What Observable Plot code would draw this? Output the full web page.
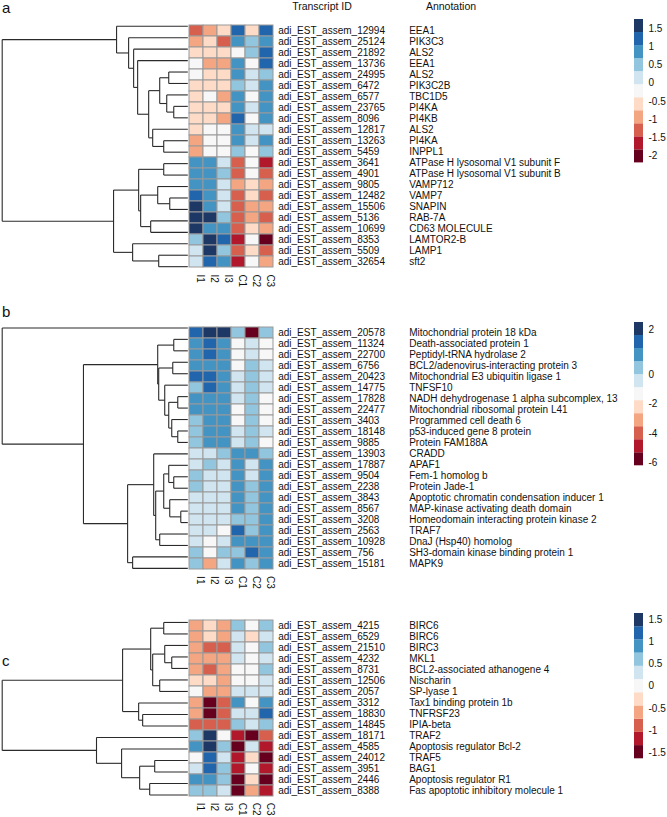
<!DOCTYPE html>
<html><head><meta charset="utf-8">
<script src="https://cdn.jsdelivr.net/npm/d3@7"></script>
<script src="https://cdn.jsdelivr.net/npm/@observablehq/plot@0.6"></script>
<style>
body{margin:0;background:#fff;}
#fig{position:relative;width:667px;height:817px;overflow:hidden;font-family:"Liberation Sans",Arial,Helvetica,sans-serif;color:#111;}
.lbl{position:absolute;line-height:1;white-space:nowrap;}
</style></head><body><div id="fig"></div>
<script>
// ---------- data ----------
const columns = ["I1","I2","I3","C1","C2","C3"];

const idsA = [12994,25124,21892,13736,24995,6472,6577,23765,8096,12817,13263,5459,3641,4901,9805,12482,15506,5136,10699,8353,5509,32654];
const annotA = ["EEA1","PIK3C3","ALS2","EEA1","ALS2","PIK3C2B","TBC1D5","PI4KA","PI4KB","ALS2","PI4KA","INPPL1",
  "ATPase H lysosomal V1 subunit F","ATPase H lysosomal V1 subunit B","VAMP712","VAMP7","SNAPIN","RAB-7A","CD63 MOLECULE","LAMTOR2-B","LAMP1","sft2"];
const valuesA = [
  [-1.30,-0.94,-0.58, 1.21,-0.58, 1.21],
  [-0.94,-0.58,-1.30, 0.85, 0.50, 0.85],
  [-0.58,-0.58,-0.58,-0.22, 0.50, 1.21],
  [-0.22,-0.94,-0.94, 0.85,-0.22, 1.21],
  [-0.22,-0.58,-0.58, 0.85, 0.14, 0.50],
  [-0.58,-0.58,-0.58, 0.50, 0.14, 0.85],
  [-0.58,-0.22,-0.94, 0.85,-0.22, 0.85],
  [-0.58,-0.58,-0.58, 0.85, 0.14, 0.85],
  [-0.58,-0.58,-0.94, 1.21,-0.22, 0.85],
  [-0.58,-0.22,-0.22, 0.85, 0.14, 0.14],
  [-0.94,-0.22,-0.22, 0.85, 0.14, 0.85],
  [-0.94,-0.22,-0.22, 0.50,-0.22, 0.50],
  [ 0.85, 0.85, 0.14,-1.30,-0.22,-1.65],
  [ 0.85, 0.85, 0.50,-1.30,-0.22,-1.30],
  [ 0.85, 0.85, 0.14,-0.94,-0.58,-0.94],
  [ 1.21, 0.85, 0.14,-1.30,-0.58,-1.30],
  [ 1.57, 0.85, 0.14,-1.30,-0.94,-0.94],
  [ 1.57, 1.57, 0.50,-1.30,-0.94,-1.30],
  [ 1.57, 0.85, 0.85,-1.30,-0.58,-0.94],
  [ 0.50, 1.57, 1.21,-1.65,-0.22,-2.01],
  [ 0.14, 1.57, 0.50,-1.30,-0.58,-1.30],
  [ 0.14, 1.21, 0.85,-1.65,-0.22,-0.94]
];
// dendrogram: [height, left, right]; a number is a leaf (row index)
const treeA = [185,
  [71, 0, [59, 1, [54, 2, [50, 3, [39, [28, [19, 4, 5], [21, 6, [14, 7, 8]]], [35, 9, [24, 10, 11]]]]]]],
  [74, [49, [24, 12, 13], [47, [30, 14, [18, 15, 16]], [37, 17, 18]]], [55, 19, [29, 20, 21]]]
];
const colorDomainA = [-2.19, 1.75];
const boxesA = [11];
const ticksA = [1.5, 1, 0.5, 0, -0.5, -1, -1.5, -2];

const idsB = [20578,11324,22700,6756,20423,14775,17828,22477,3403,18148,9885,13903,17887,9504,2238,3843,8567,3208,2563,10928,756,15181];
const annotB = ["Mitochondrial protein 18 kDa","Death-associated protein 1","Peptidyl-tRNA hydrolase 2","BCL2/adenovirus-interacting protein 3",
  "Mitochondrial E3 ubiquitin ligase 1","TNFSF10","NADH dehydrogenase 1 alpha subcomplex, 13","Mitochondrial ribosomal protein L41",
  "Programmed cell death 6","p53-induced gene 8 protein","Protein FAM188A","CRADD","APAF1","Fem-1 homolog b","Protein Jade-1",
  "Apoptotic chromatin condensation inducer 1","MAP-kinase activating death domain","Homeodomain interacting protein kinase 2",
  "TRAF7","DnaJ (Hsp40) homolog","SH3-domain kinase binding protein 1","MAPK9"];
const valuesB = [
  [ 1.45, 2.02, 2.02, 0.29,-5.75, 0.29],
  [ 0.87, 1.45, 0.87,-1.33,-0.44,-1.33],
  [ 0.90, 1.40, 0.85,-1.30,-0.40,-1.35],
  [ 0.87, 0.87, 0.87,-1.33, 0.29,-0.44],
  [ 1.45, 1.45, 0.87,-0.44, 0.29,-0.44],
  [ 0.29, 1.45, 0.87,-0.44, 0.29,-0.44],
  [ 0.87, 0.87, 0.87,-0.44, 0.29,-1.33],
  [ 0.87, 0.87, 0.87,-1.33, 0.29,-1.33],
  [ 0.29, 0.87, 0.87,-1.33, 0.29,-1.33],
  [ 0.29, 0.87, 0.87,-0.44, 0.29,-0.44],
  [ 0.29, 0.87, 0.87,-0.44, 0.29,-1.33],
  [-0.44,-0.44, 0.29, 0.87, 0.87, 0.29],
  [-0.44, 0.29,-0.44, 0.87,-0.44, 0.87],
  [ 0.29,-0.44,-0.44, 0.87,-0.44, 0.87],
  [ 0.29,-0.44,-0.44, 0.87, 0.29, 0.87],
  [-0.44,-0.44,-0.44, 0.87, 0.29, 0.87],
  [-0.40,-0.45,-0.42, 0.90, 0.30, 0.88],
  [-0.44,-0.44,-0.44, 0.29, 0.29, 0.87],
  [-0.44,-0.44,-1.33, 1.45, 0.29, 0.87],
  [-0.44,-1.33,-0.44, 0.87, 0.87, 0.87],
  [ 0.29,-1.33, 0.29, 0.29, 1.45, 0.87],
  [ 0.29,-3.10,-0.44, 0.87, 0.29, 0.87]
];
const treeB = [185, 0, [104,
  [30, [14, 1, 2], [29, [15, 3, 4], [23, 5, [19, [10, 6, 7], [16, 8, [10, 9, 10]]]]]],
  [60, [34, 11, [32, [24, [19, 12, [14, 13, 14]], [18, 15, [7, 16, 17]]], [28, 18, 19]]], [55, 20, 21]]
]];
const colorDomainB = [-6.2, 0, 2.31];
const boxesB = [7, 4];
const ticksB = [2, 0, -2, -4, -6];

const idsC = [4215,6529,21510,4232,8731,12506,2057,3312,18830,14845,18171,4585,24012,3951,2446,8388];
const annotC = ["BIRC6","BIRC6","BIRC3","MKL1","BCL2-associated athanogene 4","Nischarin","SP-lyase 1","Tax1 binding protein 1b",
  "TNFRSF23","IPIA-beta","TRAF2","Apoptosis regulator Bcl-2","TRAF5","BAG1","Apoptosis regulator R1","Fas apoptotic inhibitory molecule 1"];
const valuesC = [
  [-0.60,-0.30,-0.60, 0.60, 0.00, 0.60],
  [-0.60,-0.30,-0.60, 0.30,-0.30, 0.30],
  [-0.60,-0.89,-0.89, 0.30, 0.00, 0.60],
  [-0.60,-0.60,-0.60, 0.30, 0.00, 0.30],
  [-0.60,-0.89,-0.60, 0.00, 0.00, 0.60],
  [-0.30,-0.30,-0.60, 0.00, 0.00, 0.30],
  [ 0.00,-0.60,-0.60, 0.30, 0.30, 0.30],
  [-0.60,-1.49,-0.89, 0.89, 0.00, 0.89],
  [-0.60,-1.49,-0.89, 0.30, 0.30, 1.19],
  [-0.89,-0.89,-0.89, 0.60, 0.30, 0.60],
  [ 0.60, 1.49, 0.00,-1.19,-1.49,-0.89],
  [ 0.89, 1.49, 0.60,-1.49, 0.30,-1.19],
  [ 0.00, 1.19, 0.30,-1.19,-0.30,-1.49],
  [ 0.30, 1.19, 0.60,-1.19, 0.00,-1.19],
  [ 0.89, 0.89, 0.60,-1.49,-0.30,-1.49],
  [ 0.60, 0.60, 0.30,-1.49,-0.60,-1.19]
];
const treeC = [185,
  [65, [37, [24, 0, 1], [35, [23, 2, [16, 3, 4]], [28, 5, 6]]], [49, 7, [45, 8, 9]]],
  [91, 10, [66, 11, [48, [33, 12, 13], [38, 14, 15]]]]
];
const colorDomainC = [-1.64, 1.64];
const boxesC = [11];
const ticksC = [1.5, 1, 0.5, 0, -0.5, -1, -1.5];

const palette = ["#67001f","#b2182b","#d6604d","#f4a582","#fddbc7","#f7f7f7","#d1e5f0","#92c5de","#4393c3","#2166ac","#1e3866"];

// ---------- layout ----------
const FONT = "'Liberation Sans', Arial, Helvetica, sans-serif";
const heatLeft = 187.3, heatRight = 274.7, legLeft = 634;
const panels = [
  {letter:"a", ids:idsA, annot:annotA, values:valuesA, tree:treeA, domain:colorDomainA, boxes:boxesA, ticks:ticksA,
   top:0, height:300, heatTop:20, rowH:11.45, legTop:19.3, legBottom:162.7, letterBase:12.5},
  {letter:"b", ids:idsB, annot:annotB, values:valuesB, tree:treeB, domain:colorDomainB, boxes:boxesB, ticks:ticksB,
   top:300, height:305, heatTop:321.7, rowH:11.45, legTop:321.7, legBottom:465, letterBase:316.5},
  {letter:"c", ids:idsC, annot:annotC, values:valuesC, tree:treeC, domain:colorDomainC, boxes:boxesC, ticks:ticksC,
   top:605, height:212, heatTop:616.2, rowH:11.5, legTop:612.7, legBottom:758, letterBase:665.7}
];

const fig = document.getElementById("fig");
function place(node, left, top) {
  node.style.position = "absolute";
  node.style.left = left + "px";
  node.style.top = top + "px";
  fig.appendChild(node);
}
function label(text, left, baseline, size, center) {
  const d = document.createElement("div");
  d.className = "lbl";
  d.textContent = text;
  d.style.fontSize = size + "px";
  d.style.left = left + "px";
  d.style.top = (baseline - 0.85 * size) + "px";
  if (center) d.style.transform = "translateX(-50%)";
  fig.appendChild(d);
}

function boxEdges(domain, boxes) {
  const edges = [domain[0]];
  boxes.forEach((n, i) => {
    const lo = domain[i], hi = domain[i + 1];
    for (let k = 1; k <= n; k++) edges.push(lo + (hi - lo) * k / n);
  });
  return edges;
}

function dendroSegments(tree) {
  const segs = [];
  (function walk(node) {
    if (typeof node === "number") return {y: node + 0.5, h: 0};
    const [h, l, r] = node;
    const a = walk(l), b = walk(r);
    segs.push({x1: h, y1: a.y, x2: h, y2: b.y});
    segs.push({x1: h, y1: a.y, x2: a.h, y2: a.y});
    segs.push({x1: h, y1: b.y, x2: b.h, y2: b.y});
    return {y: (a.y + b.y) / 2, h};
  })(tree);
  return segs;
}

for (const P of panels) {
  const n = P.ids.length;
  const heatBottom = P.heatTop + n * P.rowH;
  const edges = boxEdges(P.domain, P.boxes);
  const thresholds = edges.slice(1, -1);
  const color = {type: "threshold", domain: thresholds, range: palette};

  const cells = P.ids.flatMap((id, i) => columns.map((c, j) => ({id, col: c, value: P.values[i][j]})));
  const rows = P.ids.map((id, i) => ({id, name: "adi_EST_assem_" + id, annot: P.annot[i]}));

  // heatmap + labels
  const heat = Plot.plot({
    width: 667, height: P.height,
    marginLeft: heatLeft, marginRight: 667 - heatRight,
    marginTop: P.heatTop - P.top, marginBottom: P.top + P.height - heatBottom,
    x: {type: "band", domain: columns, padding: 0, axis: null},
    y: {type: "band", domain: P.ids, padding: 0, axis: null},
    color,
    style: {fontFamily: FONT, fontSize: "10px", background: "transparent", overflow: "visible", color: "#111"},
    marks: [
      Plot.cell(cells, {x: "col", y: "id", fill: "value", stroke: "#999", strokeWidth: 1, inset: 0}),
      Plot.text(rows, {y: "id", frameAnchor: "right", text: "name", textAnchor: "start", dx: 3}),
      Plot.text(rows, {y: "id", frameAnchor: "right", text: "annot", textAnchor: "start", dx: 134}),
      Plot.text(columns, {x: d => d, text: d => d, frameAnchor: "bottom", rotate: 90, textAnchor: "start", dy: 2})
    ]
  });
  place(heat, 0, P.top);

  // dendrogram
  const dendro = Plot.plot({
    width: 190, height: P.height, margin: 0,
    x: {domain: [185, 0], range: [1.7, heatLeft], axis: null},
    y: {domain: [0, n], range: [P.heatTop - P.top, heatBottom - P.top], axis: null},
    style: {background: "transparent", overflow: "visible"},
    marks: [
      Plot.link(dendroSegments(P.tree), {x1: "x1", y1: "y1", x2: "x2", y2: "y2", stroke: "#2b2b2b", strokeWidth: 1.1})
    ]
  });
  place(dendro, 0, P.top);

  // legend: equal-height colour boxes; values placed piecewise-linearly across them
  const pad = 10;
  const H = P.legBottom - P.legTop;
  const total = d3.sum(P.boxes);
  const cum = [0];
  P.boxes.forEach(b => cum.push(cum[cum.length - 1] + b));
  const toBox = d3.scaleLinear().domain(P.domain).range(cum);
  const legBoxes = d3.range(edges.length - 1).map(i => ({lo: edges[i], hi: edges[i + 1], mid: (edges[i] + edges[i + 1]) / 2}));
  const legend = Plot.plot({
    width: 33, height: H + 2 * pad, margin: 0,
    x: {domain: [0, 1], range: [0, 9], axis: null},
    y: {transform: toBox, domain: [0, total], range: [pad + H, pad], axis: null},
    color,
    style: {fontFamily: FONT, fontSize: "10px", background: "transparent", overflow: "visible", color: "#111"},
    marks: [
      Plot.rect(legBoxes, {x1: 0, x2: 1, y1: "lo", y2: "hi", fill: "mid"}),
      Plot.text(P.ticks, {x: 1, y: d => d, text: d => String(d), textAnchor: "start", dx: 5})
    ]
  });
  place(legend, legLeft, P.legTop - pad);

  label(P.letter, 2, P.letterBase, 15, false);
}
label("Transcript ID", 322, 10, 10.5, true);
label("Annotation", 451, 10, 10.5, true);
</script></body></html>
